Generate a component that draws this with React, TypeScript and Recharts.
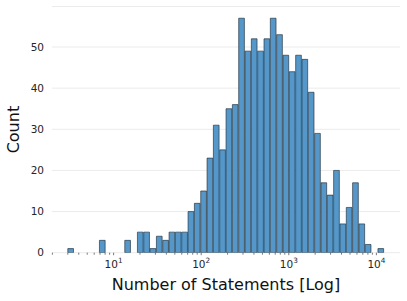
import React from 'react';
import { BarChart, Bar, XAxis, YAxis, CartesianGrid } from 'recharts';

// Histogram counts (50 equal-width bins on a log10 scale)
const counts = [
  1, 0, 0, 0, 0, 3, 0, 0, 0, 3,
  0, 5, 5, 1, 4, 3, 5, 5, 5, 10,
  12, 15, 23, 31, 25, 35, 36, 57, 49, 52,
  49, 52, 57, 53, 48, 44, 48, 47, 39, 29,
  17, 14, 20, 7, 11, 17, 7, 2, 0, 1,
];
// range of the binned values (number of statements)
const binRange = [3, 12300];
const majorTicks = [10, 100, 1000, 10000];
const minorMultipliers = [2, 3, 4, 5, 6, 7, 8, 9];
const minorDecades = [1, 10, 100, 1000];
const yTicks = [0, 10, 20, 30, 40, 50];
const xDomain = [1.98, 18600];
const yDomain = [0, 59.85];

const FONT = '"DejaVu Sans", sans-serif';

const lo = Math.log10(binRange[0]);
const hi = Math.log10(binRange[1]);
const step = (hi - lo) / counts.length;
const data = counts.map((c, i) => ({
  statements: Math.pow(10, lo + (i + 0.5) * step),
  count: c,
}));

const minorTicks: number[] = [];
minorDecades.forEach((d) =>
  minorMultipliers.forEach((m) => {
    const v = d * m;
    if (v >= xDomain[0] && v <= xDomain[1]) minorTicks.push(v);
  })
);
const allXTicks = [...majorTicks, ...minorTicks].sort((a, b) => a - b);

const XTick = (props: any) => {
  const { x, y, payload } = props;
  const v = payload.value as number;
  const lg = Math.log10(v);
  const exp = Math.round(lg);
  const isMajor = Math.abs(lg - exp) < 1e-9;
  return (
    <g>
      <line x1={x} x2={x} y1={y} y2={y + (isMajor ? 2.5 : 2)} stroke="#555" strokeWidth={0.8} />
      {isMajor && (
        <text x={x} y={y + 15.6} textAnchor="middle" fontFamily={FONT} fontSize={10.5} fill="#262626">
          10
          <tspan dy={-5.6} fontSize={7.3}>
            {exp}
          </tspan>
        </text>
      )}
    </g>
  );
};

const XLabel = (props: any) => {
  const vb = props.viewBox || {};
  return (
    <text
      x={vb.x + vb.width / 2}
      y={vb.y + 37}
      textAnchor="middle"
      fontFamily={FONT}
      fontSize={16}
      fill="#111"
    >
      Number of Statements [Log]
    </text>
  );
};

const YLabel = (props: any) => {
  const vb = props.viewBox || {};
  const cx = vb.x + 13.7;
  const cy = vb.y + vb.height / 2;
  return (
    <text
      x={cx}
      y={cy}
      transform={`rotate(-90, ${cx}, ${cy})`}
      textAnchor="middle"
      dominantBaseline="central"
      fontFamily={FONT}
      fontSize={16}
      fill="#111"
    >
      Count
    </text>
  );
};

export default function App() {
  return (
    <div style={{ position: 'absolute', left: 0, top: 0, background: '#fff' }}>
      <BarChart
        width={407}
        height={301}
        data={data}
        margin={{ top: 6.5, right: 7, bottom: 0, left: 0 }}
        barCategoryGap={0}
        barGap={0}
      >
        <CartesianGrid horizontal vertical={false} stroke="#ebebeb" strokeWidth={1} />
        <XAxis
          dataKey="statements"
          type="number"
          scale="log"
          domain={xDomain}
          allowDataOverflow
          ticks={allXTicks}
          interval={0}
          tick={<XTick />}
          tickLine={false}
          axisLine={false}
          tickSize={0}
          tickMargin={0}
          height={48.3}
          label={XLabel}
        />
        <YAxis
          type="number"
          domain={yDomain}
          allowDataOverflow
          ticks={yTicks}
          interval={0}
          width={52}
          tickLine={false}
          axisLine={false}
          tickSize={0}
          tickMargin={8}
          tick={{ fontSize: 10.5, fill: '#262626', fontFamily: FONT }}
          label={YLabel}
        />
        <Bar
          dataKey="count"
          fill="#5597c8"
          stroke="#1e2d3b"
          strokeOpacity={0.8}
          strokeWidth={0.8}
          barSize="99.9%"
          isAnimationActive={false}
        />
      </BarChart>
    </div>
  );
}
